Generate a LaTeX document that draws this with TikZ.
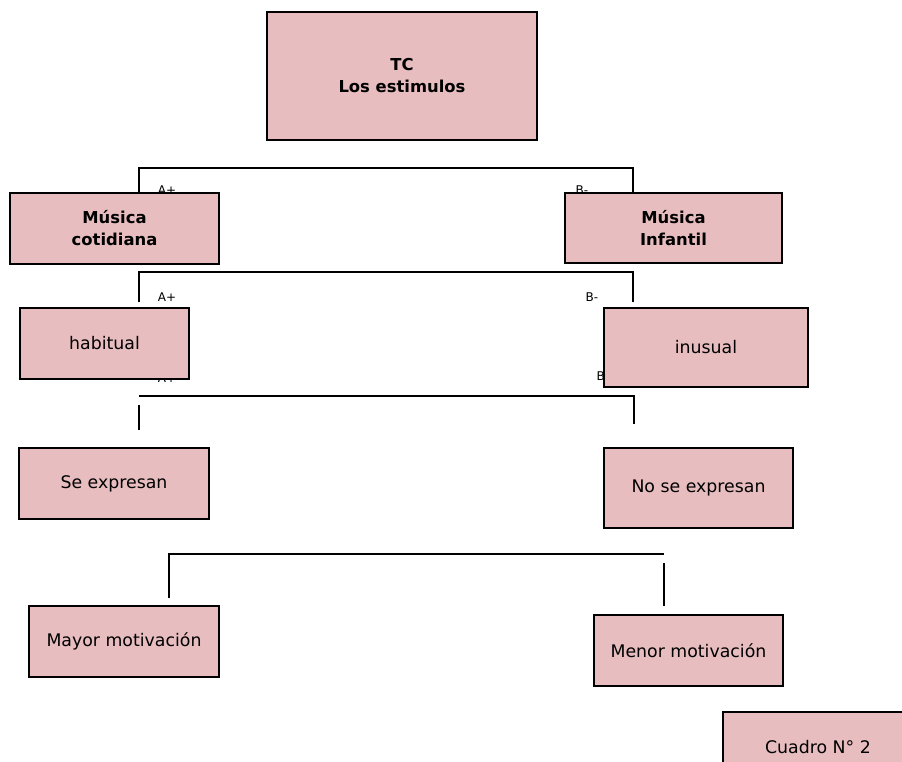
\documentclass[tikz,border=0pt]{standalone}
\usepackage{fontspec}
\setmainfont{DejaVu Sans}
\usepackage{tikz}
\definecolor{rosa}{RGB}{231,189,191}
\newcommand{\pxu}{0.75pt}

\begin{document}
\begin{tikzpicture}[x=0.75pt, y=-0.75pt,
        caja/.style={rectangle, draw=black, line width=1.5pt, fill=rosa, align=center, inner sep=0pt,
                     font=\fontsize{13}{16.5}\selectfont},
        cajab/.style={caja, font=\bfseries\fontsize{12.3}{16.5}\selectfont},
        marca/.style={anchor=base, inner sep=0pt, font=\fontsize{9}{10}\selectfont},
        linea/.style={line width=1.25pt}]
    \useasboundingbox (0,0) rectangle (902,761);
    \clip (0,0) rectangle (902,761);

    % Etiquetas (quedan detras de las cajas)
    \node[marca] (amas1) at (167,194) {A+};
    \node[marca] (bmen1) at (582,194) {B-};
    \node[marca] (amas2) at (167,301) {A+};
    \node[marca] (bmen2) at (592,301) {B-};
    \node[marca] (amas3) at (167,382) {A+};
    \node[marca] (bmen3) at (603,380) {B-};

    % Tema central
    \node[cajab, minimum width=270*\pxu, minimum height=128*\pxu] (tc) at (402,76) {TC\\Los estimulos};

    % Tipos de musica
    \node[cajab, minimum width=209*\pxu, minimum height=71*\pxu] (cot) at (114.5,228.5) {Música\\cotidiana};
    \node[cajab, minimum width=217*\pxu, minimum height=70*\pxu] (inf) at (673.5,228) {Música\\Infantil};

    % Frecuencia
    \node[caja, minimum width=169*\pxu, minimum height=71*\pxu] (hab) at (104.5,343.5) {habitual};
    \node[caja, minimum width=204*\pxu, minimum height=79*\pxu] (inu) at (706,347.5) {inusual};

    % Expresion
    \node[caja, minimum width=190*\pxu, minimum height=71*\pxu] (sex) at (114,483.5) {Se expresan};
    \node[caja, minimum width=189*\pxu, minimum height=80*\pxu] (nsx) at (698.5,488) {No se expresan};

    % Motivacion
    \node[caja, minimum width=190*\pxu, minimum height=71*\pxu] (may) at (124,641.5) {Mayor motivación};
    \node[caja, minimum width=189*\pxu, minimum height=71*\pxu] (men) at (688.5,650.5) {Menor motivación};

    % Titulo
    \node[caja, minimum width=190*\pxu, minimum height=71*\pxu] (cua) at (818,747.5) {Cuadro N° 2};

    % Llaves
    \coordinate (l1i) at (139,168);
    \coordinate (l1d) at (633,168);
    \draw[linea] (cot.north -| l1i) -- (l1i) -- (l1d) -- (inf.north -| l1d);

    \coordinate (l2i) at (139,272);
    \coordinate (l2d) at (633,272);
    \coordinate (p2i) at (139,302);
    \coordinate (p2d) at (633,302);
    \draw[linea] (p2i) -- (l2i) -- (l2d) -- (p2d);

    \coordinate (l3i) at (139,396);
    \coordinate (l3d) at (634,396);
    \coordinate (p3d) at (634,424);
    \coordinate (s3a) at (139,405);
    \coordinate (s3b) at (139,430);
    \draw[linea] (l3i) -- (l3d) -- (p3d);
    \draw[linea] (s3a) -- (s3b);

    \coordinate (l4i) at (169,554);
    \coordinate (l4d) at (664,554);
    \coordinate (p4i) at (169,598);
    \coordinate (s4a) at (664,563);
    \coordinate (s4b) at (664,606);
    \draw[linea] (p4i) -- (l4i) -- (l4d);
    \draw[linea] (s4a) -- (s4b);
\end{tikzpicture}
\end{document}
